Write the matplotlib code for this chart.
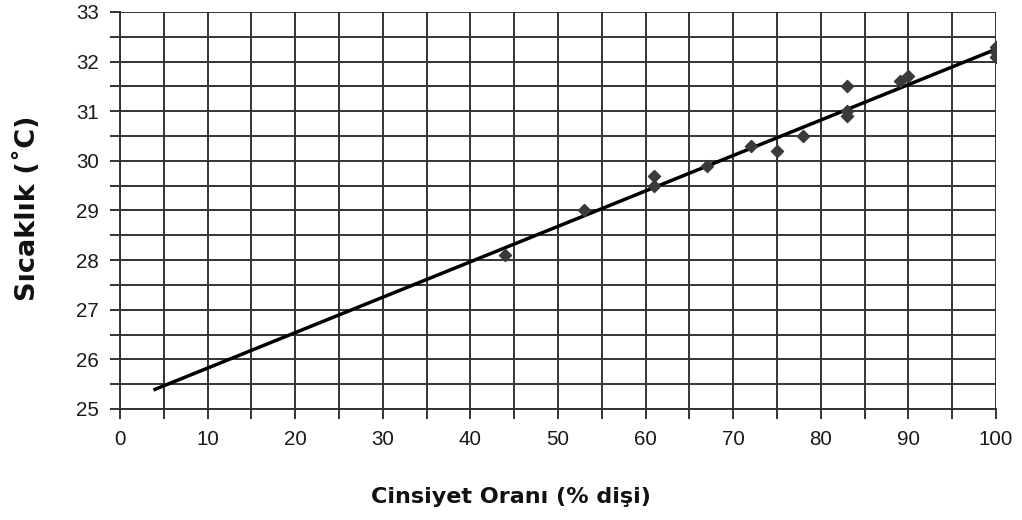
import numpy as np
import matplotlib
matplotlib.use("Agg")
import matplotlib.pyplot as plt
from matplotlib.ticker import MultipleLocator

plt.rcParams['font.family'] = ['Liberation Sans', 'DejaVu Sans']

# Female ratio (%) and temperature (°C)
female_pct = [44, 53, 61, 61, 67, 72, 75, 78, 83, 83, 83, 89, 90, 100, 100, 100]
temperature = [28.1, 29.0, 29.7, 29.5, 29.9, 30.3, 30.2, 30.5, 31.5, 31.0, 30.9, 31.6, 31.7, 32.3, 32.1, 32.2]

# Linear trend line
trend_slope = 0.0714
trend_intercept = 25.11
trend_range = [4, 100]

fig = plt.figure(figsize=(10.22, 5.2), dpi=100)
ax = fig.add_axes([0.1174, 0.2135, 0.8572, 0.7635])

grid_color = '#333333'
ax.xaxis.set_major_locator(MultipleLocator(10))
ax.xaxis.set_minor_locator(MultipleLocator(5))
ax.yaxis.set_major_locator(MultipleLocator(1))
ax.yaxis.set_minor_locator(MultipleLocator(0.5))
ax.grid(True, which='both', color=grid_color, linewidth=1.4)
ax.set_axisbelow(True)

for s in ['top', 'right']:
    ax.spines[s].set_visible(False)
for s in ['left', 'bottom']:
    ax.spines[s].set_color(grid_color)
    ax.spines[s].set_linewidth(1.4)

ax.tick_params(which='both', direction='out', length=7, width=1.4, color=grid_color)
ax.tick_params(which='major', labelsize=14.8, labelcolor='#1a1a1a', pad=8)

ax.set_xlim(0, 100)
ax.set_ylim(25, 33)

tx = np.array(trend_range, dtype=float)
ax.plot(tx, trend_intercept + trend_slope * tx, color='black', linewidth=2.5, zorder=3)
ax.scatter(female_pct, temperature, marker='D', s=38, color='#3a3a3a', zorder=4)

# Axis titles, centred on the figure
fig.text(0.5, 0.0327, 'Cinsiyet Oranı (% dişi)', ha='center', va='baseline',
         fontsize=16, fontweight='bold', family=['DejaVu Sans'], color='#111111')
fig.text(0.027, 0.60, 'Sıcaklık (˚C)', ha='center', va='center', rotation=90,
         fontsize=19.5, fontweight='bold', family=['DejaVu Sans'], color='#111111')

fig.savefig('out.png', dpi=100, facecolor='white')
